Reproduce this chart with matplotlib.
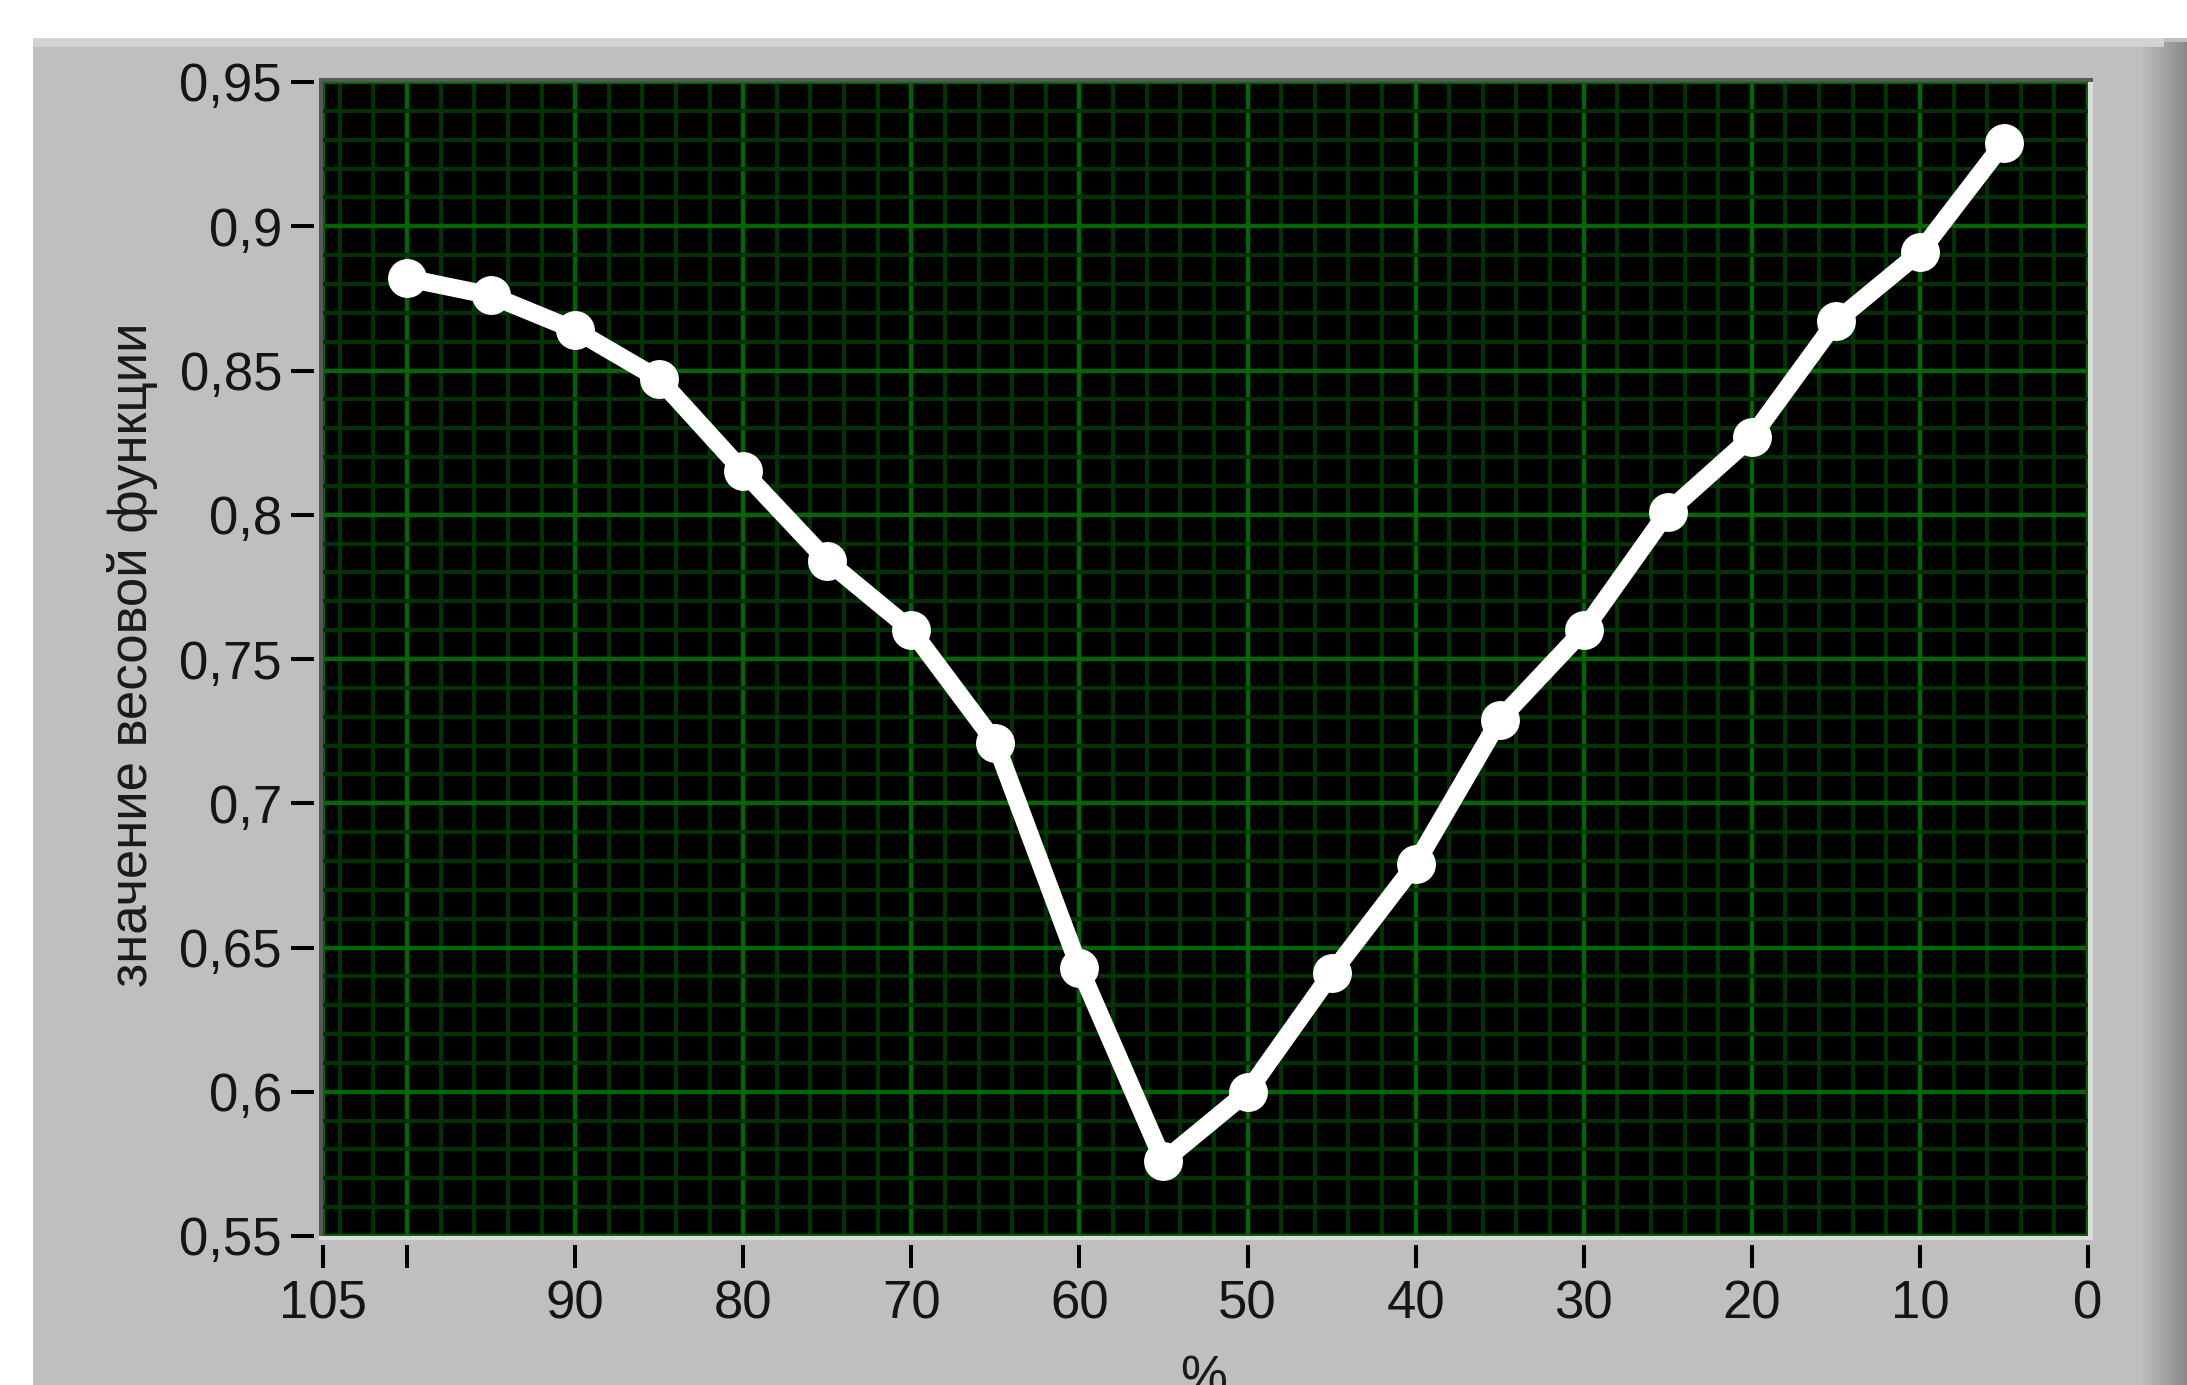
import matplotlib
matplotlib.use('Agg')
import matplotlib.pyplot as plt
from matplotlib.patches import Rectangle
from matplotlib.ticker import MultipleLocator

plt.rcParams['font.family'] = ['Liberation Sans', 'DejaVu Sans']

# ---- data ----
percent = [100, 95, 90, 85, 80, 75, 70, 65, 60, 55, 50, 45, 40, 35, 30, 25, 20, 15, 10, 5]
weight = [0.882, 0.876, 0.864, 0.847, 0.815, 0.784, 0.760, 0.721, 0.643, 0.576,
          0.600, 0.641, 0.679, 0.729, 0.760, 0.801, 0.827, 0.867, 0.891, 0.929]
x_ticks = [105, 100, 90, 80, 70, 60, 50, 40, 30, 20, 10, 0]
x_tick_labels = ['105', '', '90', '80', '70', '60', '50', '40', '30', '20', '10', '0']
y_ticks = [0.55, 0.60, 0.65, 0.70, 0.75, 0.80, 0.85, 0.90, 0.95]
y_tick_labels = ['0,55', '0,6', '0,65', '0,7', '0,75', '0,8', '0,85', '0,9', '0,95']
y_label = 'значение весовой функции'
x_label = '%'

W, H = 2187, 1385
DPI = 100
fig = plt.figure(figsize=(W / DPI, H / DPI), dpi=DPI, facecolor='white')


def px_rect(x0, y0, x1, y1, color, z):
    r = Rectangle((x0 / W, 1 - y1 / H), (x1 - x0) / W, (y1 - y0) / H,
                  transform=fig.transFigure, facecolor=color, edgecolor='none',
                  zorder=z)
    fig.add_artist(r)


# panel background
px_rect(33, 38, 2187, 1385, '#BFBFBF', -10)
px_rect(33, 38, 2164, 47, '#D3D3D3', -9)
# right shaded edge
for i in range(2140, 2187):
    t = (i - 2140) / 47.0
    g = 0.75 - 0.22 * t
    y0 = 47 if i < 2164 else 42
    px_rect(i, y0, i + 1, 1385, (g, g, g), -8)

# plot area
L, R, T, B = 323, 2088, 82, 1236
ax = fig.add_axes([L / W, 1 - B / H, (R - L) / W, (B - T) / H])
ax.set_facecolor('black')

ax.plot(percent, weight, color='white', lw=13, marker='o', ms=28, mew=0,
        solid_joinstyle='round', solid_capstyle='round', zorder=5)

ax.set_xlim(105, 0)
ax.set_ylim(0.55, 0.95)
ax.set_xticks(x_ticks)
ax.set_xticklabels(x_tick_labels)
ax.set_yticks(y_ticks)
ax.set_yticklabels(y_tick_labels)
ax.xaxis.set_minor_locator(MultipleLocator(2))
ax.yaxis.set_minor_locator(MultipleLocator(0.01))

ax.grid(which='minor', color='#003300', lw=3.0, zorder=1)
ax.grid(which='major', color='#006600', lw=3.2, zorder=2)
ax.set_axisbelow(True)

for s in ax.spines.values():
    s.set_visible(False)
ax.spines['left'].set_position(('outward', 6.5))
ax.spines['bottom'].set_position(('outward', 6.5))

ax.tick_params(axis='both', which='major', direction='out', length=16.5,
               width=2.9, color='black', labelsize=38, labelcolor='#151515')
ax.tick_params(axis='y', which='major', pad=6.5)
ax.tick_params(axis='x', which='major', pad=8)
ax.tick_params(axis='both', which='minor', length=0)

# frame borders
px_rect(319, 78, L, B, '#595959', 20)
px_rect(319, 78, 2093, T, '#595959', 20)
px_rect(R, T, 2093, 1240, '#DCDCDC', 20)
px_rect(319, B, 2093, 1240, '#DCDCDC', 20)

fig.text(133 / W, 1 - 655 / H, y_label, rotation=90, ha='center', va='center',
         fontsize=38, color='#1a1a1a')
fig.text(1204 / W, 1 - 1355 / H, x_label, ha='center', va='top',
         fontsize=38, color='#1a1a1a')

fig.savefig('out.png', dpi=DPI, facecolor='white')
